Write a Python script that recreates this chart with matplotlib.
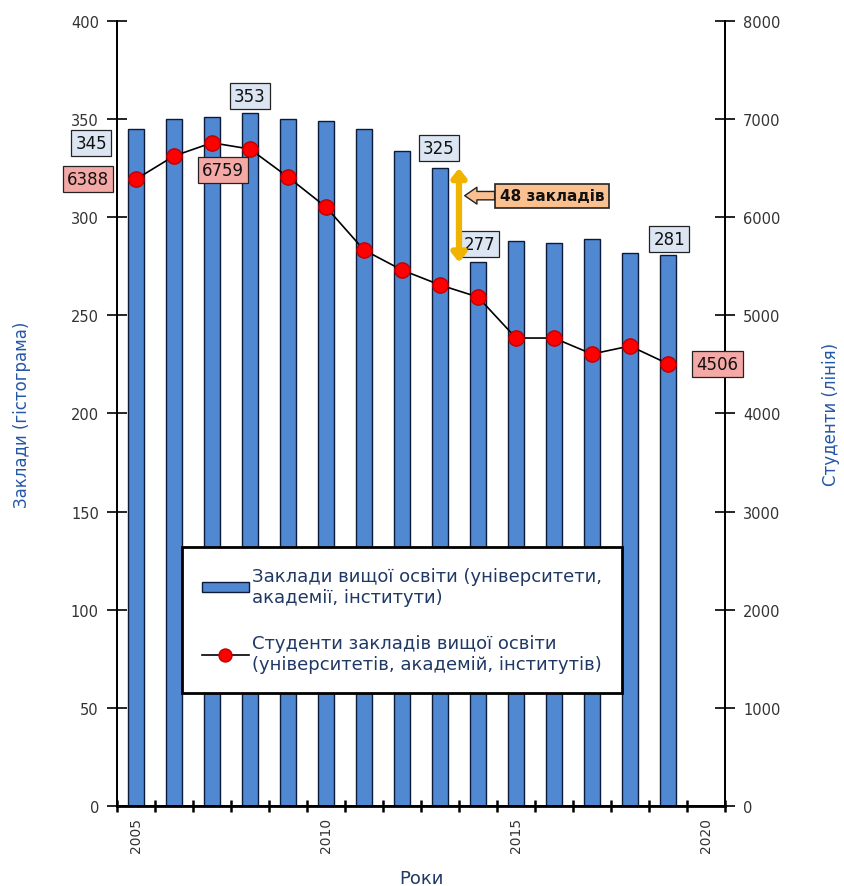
import matplotlib
matplotlib.use("Agg")
import matplotlib.pyplot as plt
from matplotlib.ticker import FixedLocator

years = list(range(2005, 2020))
institutions = [345, 350, 351, 353, 350, 349, 345, 334, 325, 277, 288, 287, 289, 282, 281]
students = [6388, 6624, 6759, 6695, 6410, 6104, 5666, 5462, 5310, 5187, 4769, 4769, 4606, 4688, 4506]
year_labels = [2005, 2010, 2015, 2020]
left_ticks = list(range(0, 401, 50))
right_ticks = list(range(0, 8001, 1000))

bar_label = "Заклади вищої освіти (університети,\nакадемії, інститути)"
line_label = "Студенти закладів вищої освіти\n(університетів, академій, інститутів)"

plt.rcParams['font.family'] = ['DejaVu Sans']

fig = plt.figure(figsize=(8.44, 8.87), dpi=100)
ax1 = fig.add_axes([0.1386, 0.0902, 0.7204, 0.885])
ax2 = ax1.twinx()

bar_color = '#5088d2'
bars = ax1.bar(years, institutions, width=0.42, color=bar_color, edgecolor='#0c1a3a',
               linewidth=1.0, label=bar_label, zorder=2)
ln, = ax2.plot(years, students, color='black', lw=1.2, marker='o', markersize=11,
               markerfacecolor='#ff0000', markeredgecolor='#c00000', label=line_label, zorder=3)

ax1.set_xlim(2004.5, 2020.5)
ax1.set_ylim(0, 400)
ax2.set_ylim(0, 8000)

ax1.set_yticks(left_ticks)
ax2.set_yticks(right_ticks)
ax1.set_xticks(year_labels)
ax1.set_xticklabels([str(y) for y in year_labels], rotation=90, fontsize=10, color='#333333')
ax1.tick_params(axis='x', which='major', length=0, pad=8)
ax1.xaxis.set_minor_locator(FixedLocator([y + 0.5 for y in range(2004, 2021)]))
ax1.tick_params(axis='x', which='minor', direction='inout', length=9, width=1.8)

ax1.tick_params(axis='y', direction='inout', length=14, width=1.2, labelsize=10.5,
                labelcolor='#333333', pad=6)
ax2.tick_params(axis='y', direction='inout', length=14, width=1.2, labelsize=10.5,
                labelcolor='#333333', pad=6)

for a in (ax1, ax2):
    a.spines['top'].set_visible(False)
    for s in ('left', 'right', 'bottom'):
        a.spines[s].set_linewidth(1.3)
ax1.spines['bottom'].set_linewidth(2)

ax1.set_ylabel("Заклади (гістограма)", color='#2458a6', fontsize=12, labelpad=29)
ax2.set_ylabel("Студенти (лінія)", color='#2458a6', fontsize=12, labelpad=30)
ax1.set_xlabel("Роки", color='#1f3864', fontsize=13, labelpad=12)

blue_box = dict(boxstyle='square,pad=0.25', facecolor='#dce6f2', edgecolor='#222222', lw=0.9)
pink_box = dict(boxstyle='square,pad=0.25', facecolor='#f5a9a6', edgecolor='#222222', lw=0.9)
T = ax1.transData

def lab(x, y, s, box):
    ax2.text(x, y, s, transform=T, ha='center', va='center', fontsize=12,
             color='#111111', bbox=box, zorder=6, clip_on=False)

lab(2003.82, 337.8, str(institutions[0]), blue_box)
lab(2008.0, 361.8, str(institutions[3]), blue_box)
lab(2012.97, 335.3, str(institutions[8]), blue_box)
lab(2014.03, 286.4, str(institutions[9]), blue_box)
lab(2019.03, 289.0, str(institutions[14]), blue_box)
lab(2003.74, 319.5, str(students[0]), pink_box)
lab(2007.29, 324.0, str(students[2]), pink_box)
lab(2020.3, 225.2, str(students[14]), pink_box)

# double arrow showing the drop
ax2.annotate('', xy=(2013.5, institutions[9]), xytext=(2013.5, institutions[8]),
             xycoords=T, textcoords=T,
             arrowprops=dict(arrowstyle='<|-|>,head_length=0.5,head_width=0.4',
                             color='#f0b400', lw=4.5, shrinkA=0, shrinkB=0), zorder=6)
ax2.annotate(f"{institutions[8] - institutions[9]} закладів", xy=(2013.65, 311),
             xytext=(2015.95, 311), xycoords=T, textcoords=T, ha='center', va='center',
             fontsize=11, fontweight='bold', color='#111111',
             bbox=dict(boxstyle='square,pad=0.3', facecolor='#fac090', edgecolor='#222222', lw=1.2),
             arrowprops=dict(arrowstyle='simple,head_length=0.8,head_width=1.1,tail_width=0.55',
                             facecolor='#fac090', edgecolor='#222222', lw=1, shrinkA=0, shrinkB=0),
             zorder=6)

leg = ax2.legend([bars, ln], [bar_label, line_label], loc='upper left',
                 bbox_to_anchor=(0.107, 0.33), bbox_transform=ax1.transAxes,
                 frameon=True, fancybox=False, fontsize=13, labelcolor='#1f3864',
                 handlelength=2.6, handleheight=0.5, handletextpad=0.2, labelspacing=1.6,
                 borderpad=1.1, borderaxespad=0, markerscale=0.85)
leg.get_frame().set_edgecolor('black')
leg.get_frame().set_linewidth(2)
leg.get_frame().set_alpha(1)
leg.set_zorder(10)

fig.savefig('out.png', dpi=100)
